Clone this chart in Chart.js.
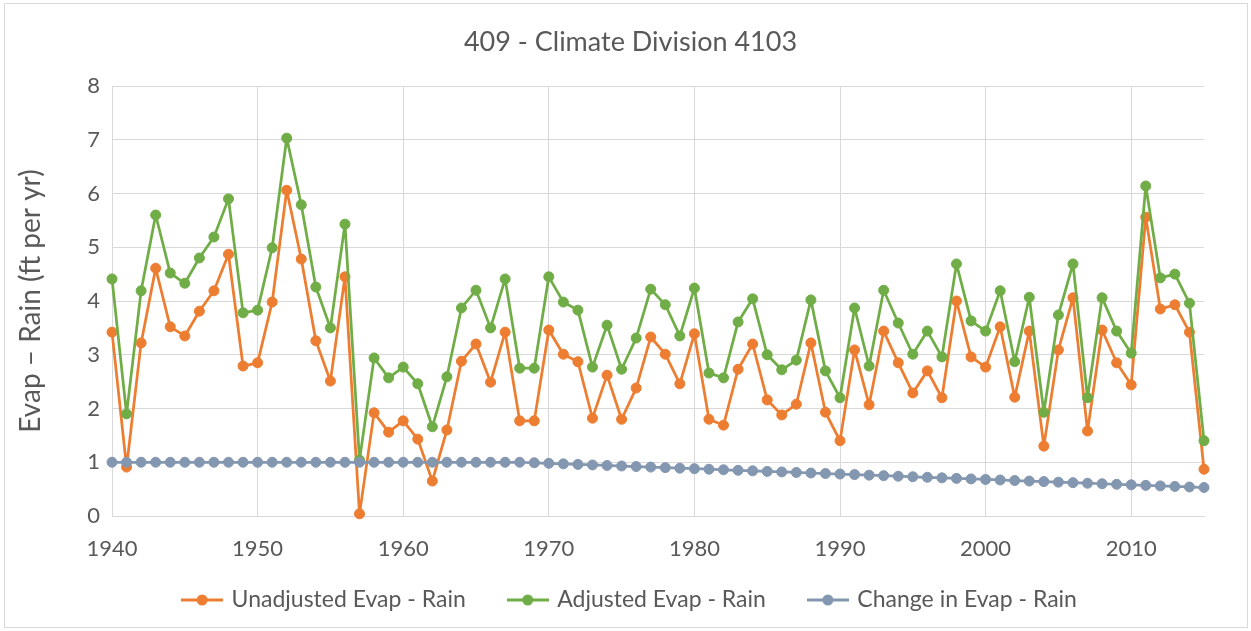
<!DOCTYPE html>
<html>
<head>
<meta charset="utf-8">
<title>409 - Climate Division 4103</title>
<script src="https://cdn.jsdelivr.net/npm/chart.js@4/dist/chart.umd.min.js"></script>
<style>
  html, body { margin: 0; padding: 0; background: #fff; }
  #wrap {
    position: absolute; left: 4px; top: 3px;
    width: 1244px; height: 625px;
    border: 1px solid #d9d9d9; box-sizing: border-box;
  }
  canvas { display: block; }
</style>
</head>
<body>
<div id="wrap"><canvas id="evapChart"></canvas></div>
<script>
// Years on the x axis
const years = [
  1940, 1941, 1942, 1943, 1944, 1945, 1946, 1947, 1948, 1949,
  1950, 1951, 1952, 1953, 1954, 1955, 1956, 1957, 1958, 1959,
  1960, 1961, 1962, 1963, 1964, 1965, 1966, 1967, 1968, 1969,
  1970, 1971, 1972, 1973, 1974, 1975, 1976, 1977, 1978, 1979,
  1980, 1981, 1982, 1983, 1984, 1985, 1986, 1987, 1988, 1989,
  1990, 1991, 1992, 1993, 1994, 1995, 1996, 1997, 1998, 1999,
  2000, 2001, 2002, 2003, 2004, 2005, 2006, 2007, 2008, 2009,
  2010, 2011, 2012, 2013, 2014, 2015
];

// Unadjusted Evap - Rain (ft per yr)
const unadjusted = [
  3.42, 0.91, 3.22, 4.61, 3.52, 3.35, 3.81, 4.19, 4.87, 2.79,
  2.85, 3.98, 6.06, 4.78, 3.26, 2.51, 4.45, 0.04, 1.92, 1.56,
  1.77, 1.43, 0.65, 1.60, 2.88, 3.20, 2.49, 3.42, 1.77, 1.77,
  3.46, 3.01, 2.87, 1.82, 2.62, 1.80, 2.38, 3.33, 3.01, 2.46,
  3.39, 1.80, 1.69, 2.73, 3.20, 2.16, 1.88, 2.08, 3.22, 1.93,
  1.40, 3.09, 2.07, 3.44, 2.85, 2.29, 2.70, 2.20, 4.00, 2.96,
  2.77, 3.52, 2.21, 3.44, 1.30, 3.09, 4.06, 1.58, 3.46, 2.85,
  2.44, 5.56, 3.85, 3.93, 3.42, 0.87
];

// Adjusted Evap - Rain (ft per yr)
const adjusted = [
  4.41, 1.90, 4.19, 5.60, 4.52, 4.33, 4.80, 5.19, 5.90, 3.78,
  3.83, 4.99, 7.03, 5.79, 4.26, 3.50, 5.43, 1.04, 2.94, 2.57,
  2.77, 2.46, 1.66, 2.59, 3.87, 4.20, 3.50, 4.41, 2.75, 2.75,
  4.45, 3.98, 3.83, 2.77, 3.55, 2.73, 3.31, 4.22, 3.93, 3.35,
  4.24, 2.66, 2.57, 3.61, 4.04, 3.00, 2.72, 2.90, 4.02, 2.70,
  2.20, 3.87, 2.79, 4.20, 3.59, 3.01, 3.44, 2.96, 4.69, 3.63,
  3.44, 4.19, 2.87, 4.07, 1.93, 3.74, 4.69, 2.20, 4.06, 3.44,
  3.03, 6.14, 4.43, 4.50, 3.96, 1.40
];

// Change in Evap - Rain (ft per yr)
const change = [
  1.00, 1.00, 1.00, 1.00, 1.00, 1.00, 1.00, 1.00, 1.00, 1.00,
  1.00, 1.00, 1.00, 1.00, 1.00, 1.00, 1.00, 1.00, 1.00, 1.00,
  1.00, 1.00, 1.00, 1.00, 1.00, 1.00, 1.00, 1.00, 1.00, 0.99,
  0.98, 0.97, 0.96, 0.95, 0.94, 0.93, 0.92, 0.91, 0.90, 0.89,
  0.88, 0.87, 0.86, 0.85, 0.84, 0.83, 0.82, 0.81, 0.80, 0.79,
  0.78, 0.77, 0.76, 0.75, 0.74, 0.73, 0.72, 0.71, 0.70, 0.69,
  0.68, 0.67, 0.66, 0.65, 0.64, 0.63, 0.62, 0.61, 0.60, 0.59,
  0.58, 0.57, 0.56, 0.55, 0.54, 0.53
];

const seriesNames = ["Unadjusted Evap - Rain", "Adjusted Evap - Rain", "Change in Evap - Rain"];
const seriesColors = ["#ED7D31", "#70AD47", "#8497B0"];

const FONT = "Lato, 'Open Sans', sans-serif";
const TEXT = "#595959";
const GRID = "#d9d9d9";

function toPoints(vals) {
  return years.map((yr, i) => ({ x: yr, y: vals[i] }));
}

// small "line with dot" marker like the spreadsheet legend
function legendMarker(color) {
  const c = document.createElement("canvas");
  c.width = 42; c.height = 14;
  const g = c.getContext("2d");
  g.strokeStyle = color;
  g.lineWidth = 3;
  g.beginPath(); g.moveTo(0, 7); g.lineTo(42, 7); g.stroke();
  g.fillStyle = color;
  g.beginPath(); g.arc(21, 7, 5.5, 0, Math.PI * 2); g.fill();
  return c;
}

function makeDataset(i, vals, order) {
  return {
    label: seriesNames[i],
    data: toPoints(vals),
    borderColor: seriesColors[i],
    backgroundColor: seriesColors[i],
    borderWidth: 2.75,
    borderJoinStyle: "round",
    borderCapStyle: "round",
    pointRadius: 5,
    pointBorderWidth: 1,
    pointHoverRadius: 5,
    pointBackgroundColor: seriesColors[i],
    pointBorderColor: seriesColors[i],
    tension: 0,
    clip: false,
    order: order
  };
}

const ctx = document.getElementById("evapChart");

new Chart(ctx, {
  type: "line",
  data: {
    datasets: [
      makeDataset(0, unadjusted, 3),
      makeDataset(1, adjusted, 2),
      makeDataset(2, change, 1)
    ]
  },
  options: {
    responsive: true,
    maintainAspectRatio: false,
    animation: false,
    layout: { padding: { left: 9, right: 0, top: 0, bottom: 5.5 } },
    plugins: {
      title: {
        display: true,
        text: "409 - Climate Division 4103",
        color: TEXT,
        font: { family: FONT, size: 27, weight: "normal" },
        padding: { top: 21.8, bottom: 27.8 }
      },
      legend: {
        position: "bottom",
        labels: {
          color: TEXT,
          font: { family: FONT, size: 23 },
          usePointStyle: true,
          pointStyleWidth: 36,
          padding: 44,
          sort: (a, b) => a.datasetIndex - b.datasetIndex,
          generateLabels: (chart) => {
            const items = Chart.defaults.plugins.legend.labels.generateLabels(chart);
            items.forEach(it => { it.pointStyle = legendMarker(seriesColors[it.datasetIndex]); });
            return items;
          }
        }
      },
      tooltip: { enabled: false }
    },
    scales: {
      x: {
        type: "linear",
        min: 1940,
        max: 2015,
        afterFit: (scale) => {
          scale.height = 28.5;
          // year labels sit below this thin box, so don't clip them to it
          scale._computeLabelArea = () => undefined;
        },
        ticks: {
          stepSize: 10,
          includeBounds: false,
          color: TEXT,
          font: { family: FONT, size: 22 },
          padding: 20,
          maxRotation: 0,
          callback: (v) => String(v)
        },
        grid: { color: GRID, drawTicks: false },
        border: { color: GRID }
      },
      y: {
        min: 0,
        max: 8,
        afterFit: (scale) => { scale.width = 98; },
        ticks: {
          stepSize: 1,
          color: TEXT,
          font: { family: FONT, size: 22 },
          padding: 12
        },
        grid: { color: GRID, drawTicks: false },
        border: { display: false },
        title: {
          display: true,
          text: "Evap – Rain (ft per yr)",
          color: TEXT,
          font: { family: FONT, size: 28 },
          padding: { top: 0, bottom: 0 }
        }
      },
      // empty spacer on the right so the plot stops short of the frame
      spacer: {
        position: "right",
        display: true,
        afterFit: (scale) => { scale.width = 43; },
        ticks: { display: false },
        grid: { display: false },
        border: { display: false }
      }
    }
  }
});
</script>
</body>
</html>
